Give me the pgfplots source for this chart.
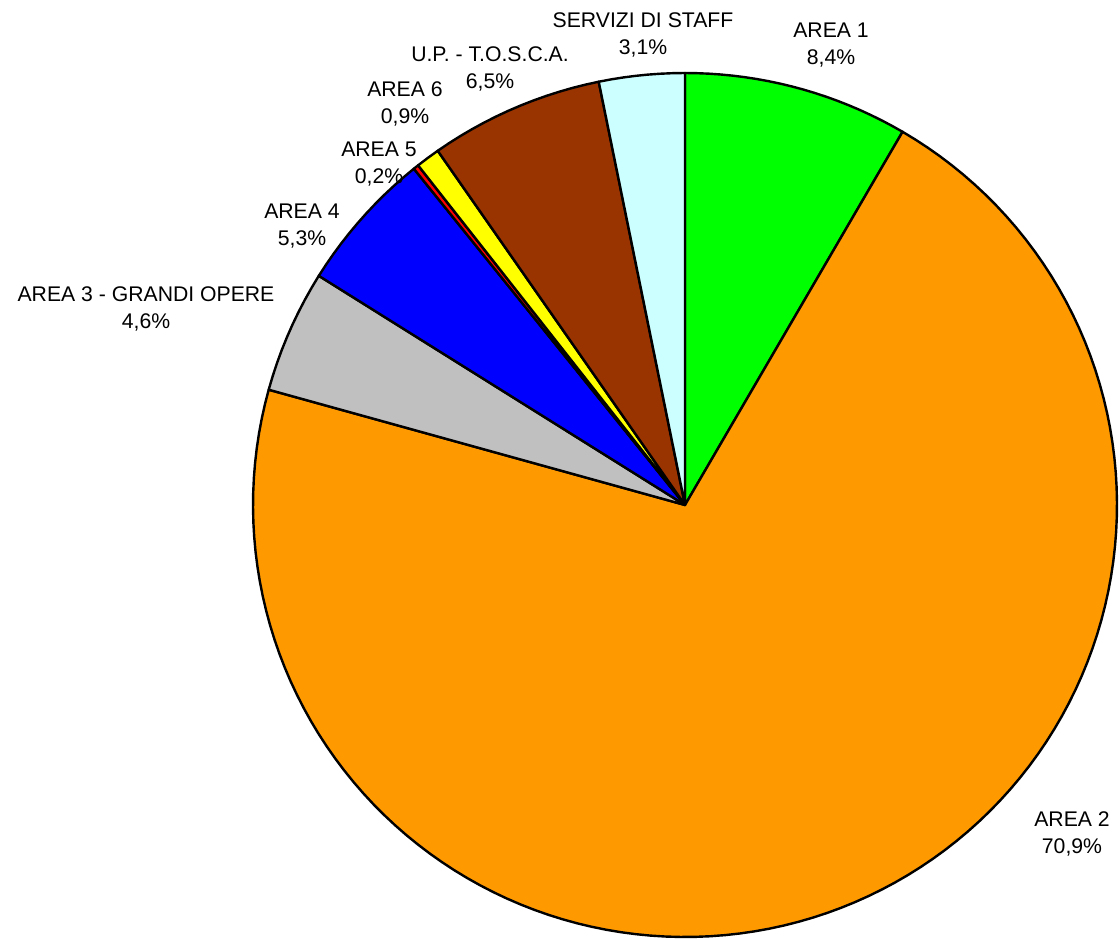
\documentclass[border=0pt]{standalone}
\usepackage{pgfplots}
\pgfplotsset{compat=1.18}
\usepackage{fontspec}
\setmainfont{Liberation Sans}
\definecolor{cA1}{HTML}{00FF00}
\definecolor{cA2}{HTML}{FF9900}
\definecolor{cA3}{HTML}{C0C0C0}
\definecolor{cA4}{HTML}{0000FF}
\definecolor{cA5}{HTML}{FF0000}
\definecolor{cA6}{HTML}{FFFF00}
\definecolor{cUP}{HTML}{993300}
\definecolor{cSS}{HTML}{CCFFFF}
\tikzset{lbl/.style={font=\fontsize{10.6}{13.5}\selectfont, align=center, inner sep=0pt}}
\begin{document}
\begin{tikzpicture}
\begin{axis}[
  x=0.5pt, y=0.5pt,
  xmin=-685, xmax=434, ymin=-431, ymax=505,
  hide axis, clip=false,
  every axis plot/.append style={draw=black, line width=1.2pt, line join=round},
]
% Percentages (clockwise from 12 o'clock): AREA 1 8.4, AREA 2 70.9, AREA 3 4.6,
% AREA 4 5.3, AREA 5 0.2, AREA 6 0.9, U.P. 6.5, SERVIZI 3.1 ; angle = 90 - 3.6*cumulative
\addplot[fill=cA1, domain=59.76:90, samples=20, variable=\t] ({432*cos(\t)},{432*sin(\t)}) -- (axis cs:0,0) -- cycle;
\addplot[fill=cA2, domain=-195.48:59.76, samples=130, variable=\t] ({432*cos(\t)},{432*sin(\t)}) -- (axis cs:0,0) -- cycle;
\addplot[fill=cA3, domain=-212.04:-195.48, samples=10, variable=\t] ({432*cos(\t)},{432*sin(\t)}) -- (axis cs:0,0) -- cycle;
\addplot[fill=cA4, domain=-231.12:-212.04, samples=12, variable=\t] ({432*cos(\t)},{432*sin(\t)}) -- (axis cs:0,0) -- cycle;
\addplot[fill=cA5, domain=-231.84:-231.12, samples=2, variable=\t] ({432*cos(\t)},{432*sin(\t)}) -- (axis cs:0,0) -- cycle;
\addplot[fill=cA6, domain=-235.08:-231.84, samples=3, variable=\t] ({432*cos(\t)},{432*sin(\t)}) -- (axis cs:0,0) -- cycle;
\addplot[fill=cUP, domain=-258.48:-235.08, samples=14, variable=\t] ({432*cos(\t)},{432*sin(\t)}) -- (axis cs:0,0) -- cycle;
\addplot[fill=cSS, domain=-270:-258.48, samples=8, variable=\t] ({432*cos(\t)},{432*sin(\t)}) -- (axis cs:0,0) -- cycle;
\node[lbl] at (axis cs:-42,470) {SERVIZI DI STAFF\\3,1\%};
\node[lbl] at (axis cs:146,460) {AREA 1\\8,4\%};
\node[lbl] at (axis cs:-195,436) {U.P. - T.O.S.C.A.\\6,5\%};
\node[lbl] at (axis cs:-280,401) {AREA 6\\0,9\%};
\node[lbl] at (axis cs:-306,341) {AREA 5\\0,2\%};
\node[lbl] at (axis cs:-383,279) {AREA 4\\5,3\%};
\node[lbl] at (axis cs:-539,196) {AREA 3 - GRANDI OPERE\\4,6\%};
\node[lbl] at (axis cs:387,-329) {AREA 2\\70,9\%};
\path (rel axis cs:0,0) rectangle (rel axis cs:1,1);
\end{axis}
\end{tikzpicture}
\end{document}
